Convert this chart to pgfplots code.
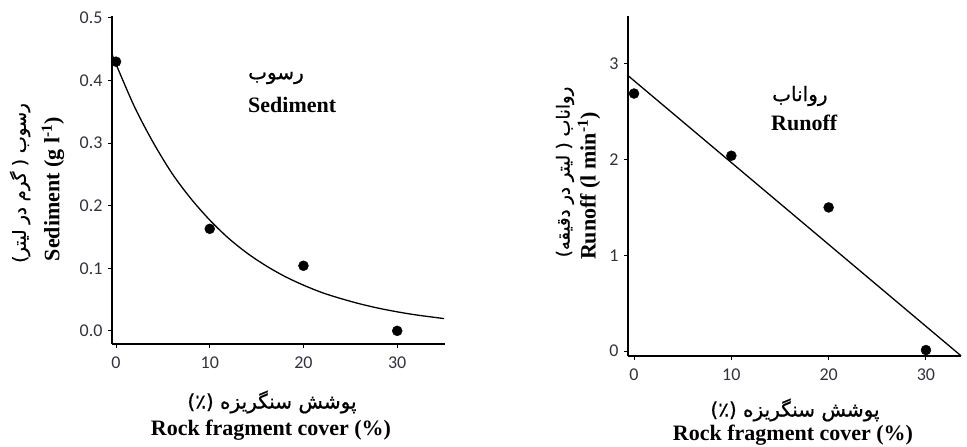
\documentclass[border=0pt]{standalone}
\usepackage{pgfplots}
\pgfplotsset{compat=1.18}
\usepackage{fontspec}
\setmainfont{Liberation Serif}
\newfontfamily\fa[Script=Arabic, FakeBold=0.8]{DejaVu Sans}
\newfontfamily\tickfont{Carlito}
\TeXXeTstate=1
\definecolor{tickgray}{RGB}{50,50,62}
\newcommand{\en}{\fontsize{22}{25}\selectfont\bfseries}
\newcommand{\fas}[1]{\fa\fontsize{#1}{#1}\selectfont}
\pgfplotsset{
  myaxis/.style={
    scale only axis,
    axis x line*=bottom, axis y line*=left,
    axis line style={-, line width=1.4pt, black},
    tick style={black, line width=1pt},
    tick align=outside,
    major tick length=4pt,
    /pgf/number format/assume math mode=true,
    ticklabel style={font=\tickfont\fontsize{18}{18}\selectfont, text=tickgray},
    xtick={0,10,20,30},
    clip=false,
  }
}
\begin{document}
\begin{tikzpicture}[x=1pt,y=1pt]
\useasboundingbox (0,0) rectangle (967,447);
% Left: sediment
\begin{axis}[myaxis,
  at={(112pt,103pt)}, anchor=south west,
  width=333pt, height=328pt,
  xmin=-0.43, xmax=35.1, ymin=-0.021, ymax=0.503,
  ytick={0,0.1,0.2,0.3,0.4,0.5},
  yticklabel style={/pgf/number format/fixed, /pgf/number format/fixed zerofill, /pgf/number format/precision=1, xshift=-2pt},
  xticklabel style={yshift=-5pt},
]
\addplot[smooth, line width=1.3pt, black, no marks] coordinates {
(-0.4,0.441) (0,0.426) (2,0.357) (4,0.300) (6,0.251) (8,0.211) (10,0.177)
(12,0.148) (14,0.124) (16,0.104) (18,0.087) (20,0.073) (22,0.061) (24,0.0515)
(26,0.0432) (28,0.0362) (30,0.0304) (32,0.0255) (35,0.0196)};
\addplot[only marks, mark=*, mark size=5pt, black] coordinates {
(0,0.43) (10,0.163) (20,0.104) (30,0.0)};
\end{axis}
% Right: runoff
\begin{axis}[myaxis,
  at={(628pt,91pt)}, anchor=south west,
  width=333pt, height=340pt,
  xmin=-0.62, xmax=33.6, ymin=-0.052, ymax=3.5,
  ytick={0,1,2,3},
  xticklabel style={yshift=-5pt},
  yticklabel style={xshift=-2pt},
]
\addplot[line width=1.3pt, black, no marks] coordinates {(-0.62,2.877) (33.6,-0.05)};
\addplot[only marks, mark=*, mark size=5pt, black] coordinates {
(0,2.69) (10,2.04) (20,1.50) (30,0.01)};
\end{axis}
% y labels
\node[rotate=90] at (20,264) {\fas{18}\beginR رسوب ( گرم در لیتر)\endR};
\node[rotate=90] at (53,258) {\en Sediment (g l\textsuperscript{-1})};
\node[rotate=90] at (565,275) {\fas{18}\beginR رواناب ( لیتر در دقیقه)\endR};
\node[rotate=90] at (589,261) {\en Runoff (l min\textsuperscript{-1})};
% x labels
\node at (272,45) {\fas{20}\beginR پوشش سنگریزه (٪)\endR};
\node at (271,17) {\en Rock fragment cover (\%)};
\node at (795,37) {\fas{20}\beginR پوشش سنگریزه (٪)\endR};
\node at (793,12) {\en Rock fragment cover (\%)};
% annotations
\node[anchor=west, inner sep=0pt] at (248,369) {\fas{20}\beginR رسوب\endR};
\node[anchor=west, inner sep=0pt] at (248,342) {\en Sediment};
\node[anchor=west, inner sep=0pt] at (772,351) {\fas{20}\beginR رواناب\endR};
\node[anchor=west, inner sep=0pt] at (771,324) {\en Runoff};
\end{tikzpicture}
\end{document}
